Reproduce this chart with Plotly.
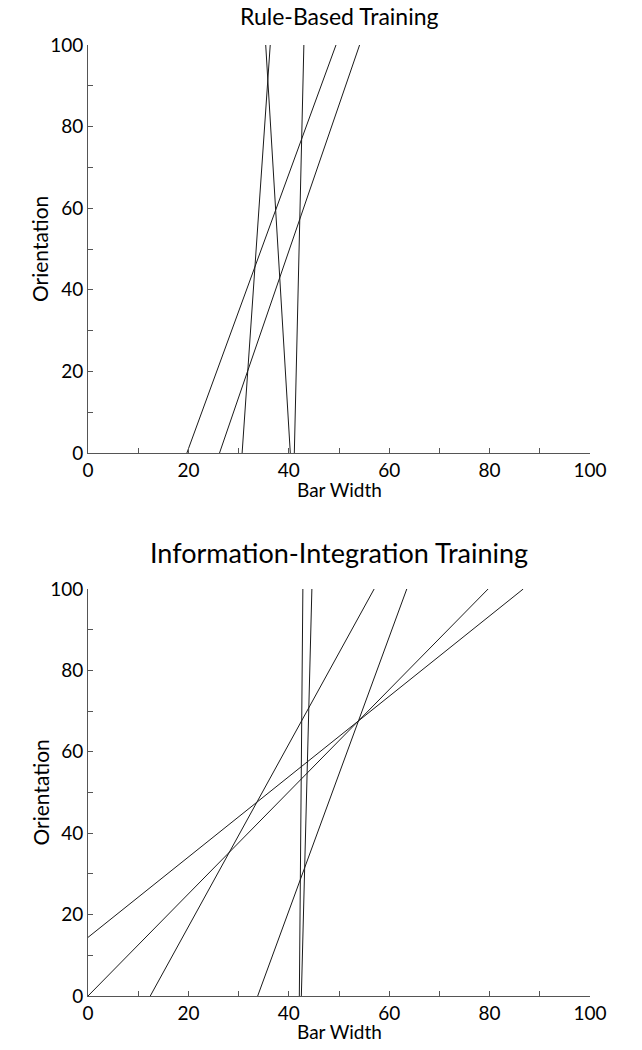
import plotly.graph_objects as go

# Rule-Based Training: each boundary runs from (x at orientation 0) to (x at orientation 100)
rb_x_start = [19.7, 26.2, 30.7, 40.3, 41.1]
rb_y_start = [0, 0, 0, 0, 0]
rb_x_end = [49.4, 54.1, 36.3, 35.4, 43.0]
rb_y_end = [100, 100, 100, 100, 100]

# Information-Integration Training
ii_x_start = [0, 0, 12.4, 33.8, 42.1, 42.5]
ii_y_start = [14.4, 0, 0, 0, 0, 0]
ii_x_end = [86.7, 79.7, 57.0, 63.5, 42.8, 44.6]
ii_y_end = [100, 100, 100, 100, 100, 100]

titles = ["Rule-Based Training", "Information-Integration Training"]
x_label = "Bar Width"
y_label = "Orientation"

W, H = 642, 1050
FONT = "Lato"
LINE_COLOR = "#1a1a1a"
AXIS_COLOR = "#555555"

fig = go.Figure()

def add_lines(xs0, ys0, xs1, ys1, xa, ya):
    for a, b, c, d in zip(xs0, ys0, xs1, ys1):
        fig.add_trace(go.Scatter(x=[a, c], y=[b, d], mode="lines",
                                 line=dict(color=LINE_COLOR, width=1),
                                 xaxis=xa, yaxis=ya, showlegend=False,
                                 hoverinfo="skip"))

add_lines(rb_x_start, rb_y_start, rb_x_end, rb_y_end, "x", "y")
add_lines(ii_x_start, ii_y_start, ii_x_end, ii_y_end, "x2", "y2")

# target window pixel layout
px_l, px_r = 88, 590
top_plot = (45, 453)
bot_plot = (589, 996)

def fx(px):
    return px / W

def fy(py):
    return 1 - py / H

xdom = [fx(px_l), fx(px_r)]

axis_common = dict(range=[0, 100], showline=True, linecolor=AXIS_COLOR, linewidth=1,
                   ticks="inside", ticklen=5, tickcolor=AXIS_COLOR, tickwidth=1,
                   tickvals=[0, 20, 40, 60, 80, 100],
                   minor=dict(tickvals=[10, 30, 50, 70, 90], ticks="inside", ticklen=5,
                              tickcolor=AXIS_COLOR, tickwidth=1),
                   showgrid=False, zeroline=False, mirror=False, automargin=False,
                   tickfont=dict(family=FONT, size=19, color="#000"))

fig.update_layout(
    width=W, height=H, margin=dict(l=0, r=0, t=0, b=0, autoexpand=False),
    paper_bgcolor="white", plot_bgcolor="white",
    xaxis=dict(domain=xdom, anchor="y", **axis_common),
    yaxis=dict(domain=[fy(top_plot[1]), fy(top_plot[0])], anchor="x", **axis_common),
    xaxis2=dict(domain=xdom, anchor="y2", **axis_common),
    yaxis2=dict(domain=[fy(bot_plot[1]), fy(bot_plot[0])], anchor="x2", **axis_common),
)

cx = fx((px_l + px_r) / 2)
title_y = [16, 552]
title_size = [23, 27]
xlab_y = [489, 1031]
ann = []
for i, (pt, pb) in enumerate([top_plot, bot_plot]):
    ann.append(dict(text=titles[i], x=cx, y=fy(title_y[i]), xref="paper", yref="paper",
                    showarrow=False, font=dict(family=FONT, size=title_size[i], color="#000"),
                    xanchor="center", yanchor="middle"))
    ann.append(dict(text=x_label, x=cx, y=fy(xlab_y[i]), xref="paper", yref="paper",
                    showarrow=False, font=dict(family=FONT, size=19, color="#000"),
                    xanchor="center", yanchor="middle"))
    ann.append(dict(text=y_label, x=fx(40), y=fy((pt + pb) / 2), xref="paper", yref="paper",
                    showarrow=False, textangle=-90, font=dict(family=FONT, size=21, color="#000"),
                    xanchor="center", yanchor="middle"))
fig.update_layout(annotations=ann)

fig.write_html("out.html", config={"displayModeBar": False},
               post_script="document.body.style.margin='0';document.body.style.overflow='hidden';")
